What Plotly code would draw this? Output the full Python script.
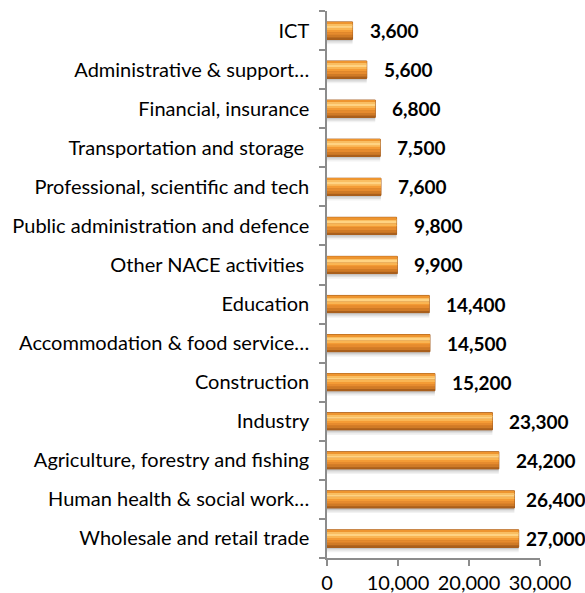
import plotly.graph_objects as go

categories = [
    "Wholesale and retail trade",
    "Human health & social work…",
    "Agriculture, forestry and fishing",
    "Industry",
    "Construction",
    "Accommodation & food service…",
    "Education",
    "Other NACE activities ",
    "Public administration and defence",
    "Professional, scientific and tech",
    "Transportation and storage ",
    "Financial, insurance",
    "Administrative & support…",
    "ICT",
]
values = [27000, 26400, 24200, 23300, 15200, 14500, 14400, 9900, 9800, 7600, 7500, 6800, 5600, 3600]
tick_vals = [0, 10000, 20000, 30000]
tick_text = ["0", "10,000", "20,000", "30,000"]

FONT = "Lato"
FIG_W, FIG_H = 585, 593
M_L, M_R, M_T, M_B = 327, 45, 11, 35
X_MAX = 30000
W = 0.44  # bar thickness in category units
# gradient bands from bottom to top: (fraction start, fraction end, colour)
bands = [
    (0.00, 0.10, "#A95F1C"),
    (0.10, 0.25, "#CF7A26"),
    (0.25, 0.40, "#E68B2E"),
    (0.40, 0.55, "#F49B35"),
    (0.55, 0.65, "#F9B553"),
    (0.65, 0.80, "#FFD382"),
    (0.80, 0.90, "#F9BE62"),
    (0.90, 1.00, "#EE952F"),
]

fig = go.Figure()

# soft shadow below bars
for off, alpha in [(0.13, 0.05), (0.09, 0.08), (0.05, 0.10)]:
    fig.add_trace(go.Bar(
        x=values, y=categories, orientation="h",
        width=off, offset=-W / 2 - off,
        marker=dict(color=f"rgba(0,0,0,{alpha})", line=dict(width=0)),
        hoverinfo="skip", showlegend=False,
    ))
# base / outline
fig.add_trace(go.Bar(
    x=values, y=categories, orientation="h",
    width=W, offset=-W / 2,
    marker=dict(color="#B8641A", line=dict(color="#A05718", width=1)),
    hoverinfo="skip", showlegend=False,
))
for f0, f1, col in bands:
    fig.add_trace(go.Bar(
        x=values, y=categories, orientation="h",
        width=W * (f1 - f0), offset=-W / 2 + W * f0,
        marker=dict(color=col, line=dict(width=0)),
        hoverinfo="skip", showlegend=False,
    ))

# value labels (pushed left when they would run off the right edge)
px_per_unit = (FIG_W - M_L - M_R) / X_MAX
label_w = 58
max_left = FIG_W - 3 - label_w
for v, c in zip(values, categories):
    bar_end = M_L + v * px_per_unit
    shift = min(15, max_left - bar_end)
    fig.add_annotation(
        x=v, y=c, text=f"<b>{v:,}</b>", showarrow=False,
        xanchor="left", yanchor="middle", xshift=shift,
        font=dict(family=FONT, size=19, color="#000000"),
    )

fig.update_layout(
    width=FIG_W, height=FIG_H,
    margin=dict(l=M_L, r=M_R, t=M_T, b=M_B),
    paper_bgcolor="white", plot_bgcolor="white",
    barmode="overlay",
    font=dict(family=FONT, size=20, color="#000000"),
    xaxis=dict(
        range=[0, X_MAX], tickvals=tick_vals, ticktext=tick_text,
        showgrid=False, zeroline=False,
        showline=True, linecolor="#8C8C8C", linewidth=1.5,
        ticks="outside", ticklen=6, tickcolor="#8C8C8C", tickwidth=1.5,
        tickfont=dict(family=FONT, size=20),
        ticklabelstandoff=0,
        automargin=False,
    ),
    yaxis=dict(
        categoryorder="array", categoryarray=categories,
        showgrid=False, zeroline=False,
        showline=True, linecolor="#8C8C8C", linewidth=1.5,
        ticks="outside", ticklen=6, tickcolor="#8C8C8C", tickwidth=1.5,
        tickson="boundaries",
        ticklabelstandoff=12,
        tickfont=dict(family=FONT, size=20),
        automargin=False,
    ),
)

fig.write_html(
    "out.html",
    config={"displayModeBar": False},
    post_script="document.body.style.margin='0';document.documentElement.style.overflow='hidden';",
)
